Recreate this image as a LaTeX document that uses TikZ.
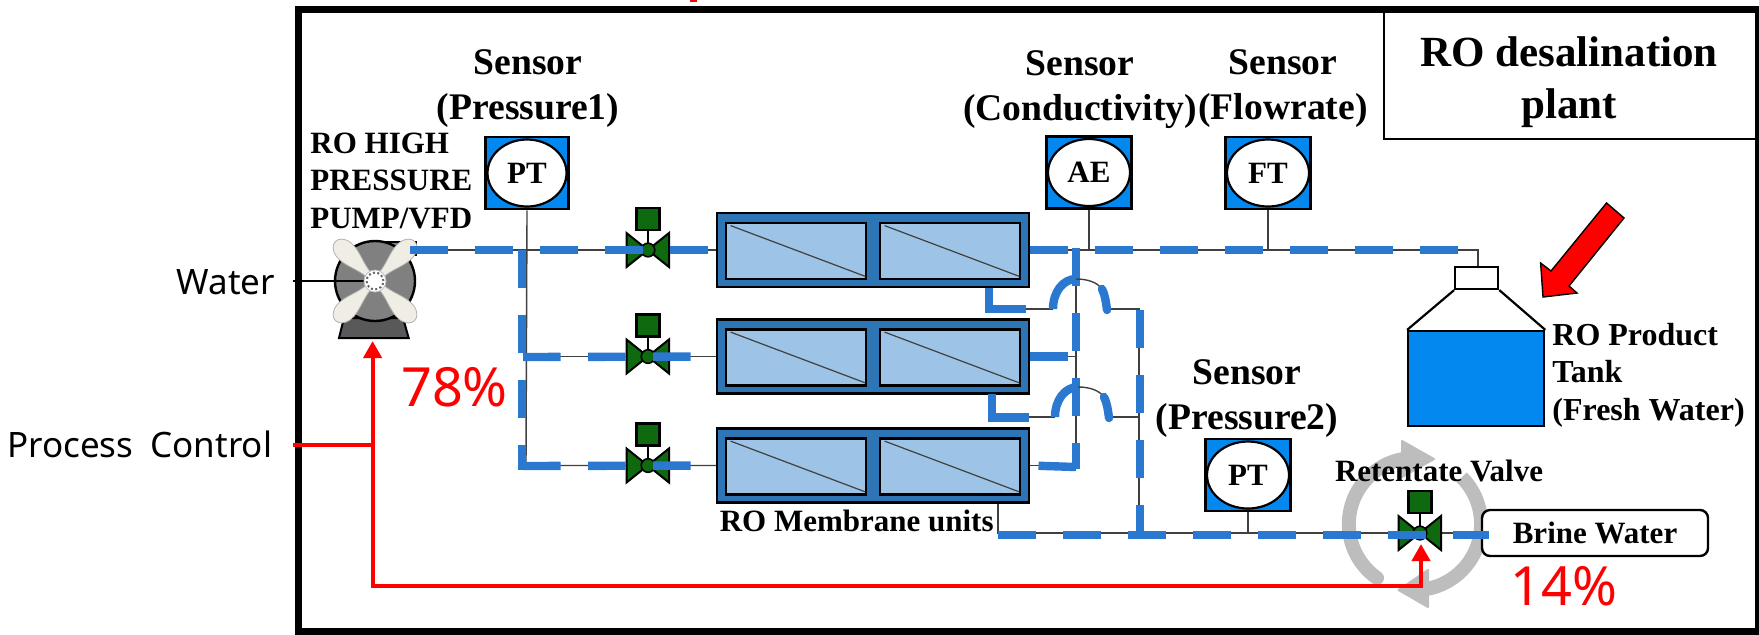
\documentclass[tikz,border=0pt]{standalone}
\usepackage{fontspec}
\setmainfont{Liberation Serif}
\newfontfamily\sansfont{Noto Sans}
\usetikzlibrary{arrows.meta,shapes.geometric}
\definecolor{flowblue}{HTML}{2B78D0}
\definecolor{tankblue}{HTML}{0388F0}
\definecolor{memdark}{HTML}{2E75B6}
\definecolor{memlight}{HTML}{9DC3E6}
\definecolor{valvegreen}{HTML}{0F6A0F}
\definecolor{ringgray}{HTML}{BDBDBD}
\definecolor{bladecream}{HTML}{EFEDE4}
\tikzset{
  pipe/.style={draw=black!75,line width=.7pt},
  flow/.style={draw=flowblue,line width=4.2pt,dash pattern=on 18.75pt off 13.75pt},
  flowbar/.style={draw=flowblue,line width=4.2pt},
  ctrl/.style={draw=red,line width=2pt},
  sensorbox/.style={rectangle,draw,line width=1.3pt,fill=tankblue,inner sep=0pt,minimum width=41.5pt,minimum height=36pt},
  sensorhead/.style={ellipse,draw,line width=1.1pt,fill=white,inner sep=0pt,minimum width=41pt,minimum height=33.5pt,font=\fontsize{15.5}{18}\selectfont\bfseries},
  sensorname/.style={align=center,inner sep=0pt,font=\fontsize{18.8}{22.5}\selectfont\bfseries},
  tag/.style={inner sep=0pt,font=\fontsize{15.5}{18.75}\selectfont\bfseries},
  outer/.style={font=\fontsize{17.5}{21}\selectfont\sansfont,inner sep=0pt},
  percent/.style={text=red,inner sep=0pt,font=\fontsize{27}{32}\selectfont\sansfont},
  module/.style={rectangle,draw,line width=1.2pt,fill=memdark,inner sep=0pt,minimum width=156pt,minimum height=37pt},
  panel/.style={rectangle,draw,line width=1.4pt,fill=memlight,inner sep=0pt,minimum width=70pt,minimum height=28pt},
  ring/.style={draw=ringgray,line width=7pt},
  ringhead/.style={fill=ringgray,draw=ringgray,line width=1pt,line join=round},
  valvesym/.pic={
    \filldraw[fill=valvegreen,line width=1pt,line join=miter] (-21.5,-17) -- (21,17) -- (21,-17) -- (-21.5,17) -- cycle;
    \draw[line width=.8pt] (0,0) -- (0,-20);
    \filldraw[fill=valvegreen,line width=1.1pt] (-11.5,-42) rectangle (11.5,-20);
    \filldraw[fill=valvegreen,line width=.8pt] (0,0) circle (3.4pt);
  },
  hop/.pic={
    \draw[flowbar] (0,0) .. controls (0,-17) and (10,-30) .. (23,-30);
    \draw[pipe] (23,-30) .. controls (34,-30) and (44,-27) .. (49,-20);
    \draw[flowbar,line cap=round] (49,-20) .. controls (52,-14) and (53,-7) .. (54,1);
  },
}
\begin{document}
\begin{tikzpicture}[x=.5pt,y=-.5pt]
  \path[use as bounding box,clip] (0,0) rectangle (1759,634);
  % frame and title
  \fill[red] (690,0) rectangle (697,2);
  \draw[line width=3.4pt] (298.5,9.5) rectangle (1758,631.5);
  \node[rectangle,draw,line width=1.1pt,inner sep=0pt,minimum width=186pt,minimum height=63.5pt] (titlebox) at (1570,75.5) {};
  \node[align=center,inner sep=0pt,font=\fontsize{21.5}{26}\selectfont\bfseries] (title) at (1569,82) {RO desalination\\plant};

  % retentate ring goes under everything
  \draw[ring,line cap=round] (1377,578) arc[start angle=235,end angle=100,radius=33pt];
  \filldraw[ringhead] (1402,441) -- (1434,459) -- (1402,477) -- cycle;
  \draw[ring] (1461.7,477.3) arc[start angle=45,end angle=-79,radius=33pt];
  \filldraw[ringhead] (1428,570) -- (1398.5,590) -- (1428,607) -- cycle;

  % pump
  \coordinate (pumpout) at (410,250);
  \coordinate (waterin) at (293,281);
  \filldraw[fill=black!50,line width=1pt] (370,241.7) -- (415.6,241.7) -- (415.6,255) -- (370,255) -- cycle;
  \filldraw[fill=black!65,line width=1pt] (344,318) -- (403,318) -- (408.7,338) -- (339,338) -- cycle;
  \node[circle,draw,line width=1.2pt,fill=black!50,inner sep=0pt,minimum size=40pt] (pump) at (375,281) {};
  \draw[line width=.7pt] (waterin) -- (pump.center);
  \foreach \ang in {45,135,225,315}
    \filldraw[shift={(pump.center)},rotate=\ang,fill=bladecream,draw=black!30,line width=.4pt]
      (8,-3) .. controls (22,-4) and (32,-11) .. (44,-10) .. controls (60,-8) and (60,8) .. (44,10)
      .. controls (32,11) and (22,4) .. (8,3) -- cycle;
  \filldraw[fill=white,draw=black!25,line width=.4pt] (pump.center) circle (5.5pt);
  \draw[black!60,line width=1pt,dash pattern=on 1pt off 1.2pt] (pump.center) circle (4.2pt);

  % membranes
  \foreach \n/\y in {1/250,2/356.5,3/465.5} {
    \node[module] (m\n) at (873,\y) {};
    \node[panel] (m\n a) at (796,\y+1) {};
    \node[panel] (m\n b) at (950,\y+1) {};
    \draw[black!75,line width=.6pt] ([shift={(6,4)}]m\n a.north west) -- ([shift={(-2,-4)}]m\n a.south east);
    \draw[black!75,line width=.6pt] ([shift={(6,4)}]m\n b.north west) -- ([shift={(-2,-4)}]m\n b.south east);
  }

  % sensors
  \node[sensorbox] (pt1box) at (527,173) {};
  \node[sensorhead,minimum width=39.5pt] (pt1) at (527,173) {PT};
  \node[sensorbox,minimum width=42.5pt] (aebox) at (1089,172.5) {};
  \node[sensorhead] (ae) at (1089,172.5) {AE};
  \node[sensorbox,minimum width=42.5pt] (ftbox) at (1268,173) {};
  \node[sensorhead] (ft) at (1268,173) {FT};
  \node[sensorbox,minimum width=42.5pt] (pt2box) at (1248,475) {};
  \node[sensorhead] (pt2) at (1248,475) {PT};

  % tank
  \node[rectangle,draw,line width=1.1pt,fill=white,inner sep=0pt,minimum width=21.5pt,minimum height=11pt] (tankcap) at (1476.7,278) {};
  \node[rectangle,draw,line width=1.1pt,fill=tankblue,inner sep=0pt,minimum width=68pt,minimum height=47.5pt] (tank) at (1476.2,378.5) {};
  \draw[line width=1.1pt] (tankcap.south west) -- (tank.north west);
  \draw[line width=1.1pt] (tankcap.south east) -- (tank.north east);
  \filldraw[fill=red,line width=.7pt,line join=miter] (1606.5,203) -- (1624,218) -- (1569,286) -- (1577,293) -- (1543,297) -- (1540.6,263) -- (1551,271) -- cycle;

  % brine outlet
  \node[rectangle,rounded corners=4pt,draw,line width=1.2pt,fill=white,inner sep=0pt,minimum width=113pt,minimum height=23pt,font=\fontsize{15.5}{18.75}\selectfont\bfseries] (brine) at (1595,533) {Brine Water};

  % thin lines
  \coordinate (j1) at (526,250);
  \coordinate (j2) at (526,356.5);
  \coordinate (j3) at (526,465.5);
  \coordinate (j4) at (1089,250);
  \coordinate (j5) at (1268,250);
  \coordinate (j6) at (1478,250);
  \coordinate (c1) at (1076,250);
  \coordinate (c2) at (1076,356.5);
  \coordinate (c3) at (1076,465.5);
  \coordinate (d1) at (1139,309);
  \coordinate (d2) at (1139,417);
  \coordinate (d3) at (1139,533);
  \coordinate (r1) at (988,309);
  \coordinate (r2) at (992,417);
  \coordinate (r3) at (998,533);
  \coordinate (j7) at (1248,533);
  \coordinate (v1) at (648,250);
  \coordinate (v2) at (648,356.5);
  \coordinate (v3) at (648,465.5);
  \coordinate (v4) at (1420,533);
  \coordinate (h1a) at (1053,309);
  \coordinate (h1b) at (1107,309);
  \coordinate (h2a) at (1055,417);
  \coordinate (h2b) at (1109,417);

  \draw[pipe] (pumpout) -- (m1.west);
  \draw[pipe] (pt1box.south) -- (j3) -- (m3.west);
  \draw[pipe] (j2) -- (m2.west);
  \draw[pipe] (m1.east) -- (j6) -- (j6 |- tankcap.north);
  \draw[pipe] (aebox.south) -- (j4);
  \draw[pipe] (ftbox.south) -- (j5);
  \draw[pipe] (c1) -- (c3) -- (m3.east);
  \draw[pipe] (m2.east) -- (c2);
  \draw[pipe] (r1) -- (h1a);
  \draw[pipe] (h1b) -- (d1) -- (d3);
  \draw[pipe] (r2) -- (h2a);
  \draw[pipe] (h2b) -- (d2);
  \draw[pipe] (r3 |- m3.south) -- (r3) -- (brine.west);
  \draw[pipe] (pt2box.south) -- (j7);

  % valves
  \foreach \v in {v1,v2,v3,v4}
    \pic at (\v) {valvesym};

  % flow dashes
  \draw[flow] (pumpout) -- (m1.west);
  \draw[flow] (522,250) -- (522,470);
  \draw[flow] (523,357) -- (m2.west);
  \draw[flow] (523,466) -- (m3.west);
  \draw[flow] (m1.east) -- (j6);
  \draw[flow] (m2.east) -- (c2);
  \draw[flow] (1076,248) -- (1076,469);
  \draw[flow] (1076,467) -- (m3.east);
  \draw[flowbar] (989,288) -- (989,309) -- (1026,309);
  \draw[flowbar] (992,394) -- (992,417.5) -- (1029,417.5);
  \pic at (h1a) {hop};
  \pic at (h2a) {hop};
  \draw[flow] (1140,310) -- (1140,533);
  \draw[flow] (998,535) -- (1489,535);

  % process control
  \coordinate (ctrlin) at (293,445);
  \coordinate (ctrljoin) at (372.6,445);
  \coordinate (pumpin) at (372.6,341);
  \coordinate (ctrlcorner) at (372.6,586);
  \coordinate (valvecorner) at (1421,586);
  \coordinate (valvein) at (1421,544);
  \draw[ctrl] (ctrlin) -- (ctrljoin);
  \draw[ctrl,-{Triangle[width=9pt,length=8.5pt]}] (ctrljoin) -- (pumpin);
  \draw[ctrl,-{Triangle[width=9pt,length=8.5pt]}] (ctrljoin) -- (ctrlcorner) -- (valvecorner) -- (valvein);

  % labels
  \node[sensorname] (pt1name) at (528,88.5) {Sensor\\(Pressure1)};
  \node[sensorname] (aename) at (1080,89.5) {Sensor\\(Conductivity)};
  \node[sensorname] (ftname) at (1283,88.5) {Sensor\\(Flowrate)};
  \node[sensorname] (pt2name) at (1247,398.5) {Sensor\\(Pressure2)};
  \node[tag,align=left,anchor=west] (pumpname) at (310,180.5) {RO HIGH\\PRESSURE\\PUMP/VFD};
  \node[tag,align=left,anchor=west,font=\fontsize{16}{18.75}\selectfont\bfseries] (tankname) at (1552,375) {RO Product\\Tank\\(Fresh Water)};
  \node[tag,anchor=base] (memname) at (856.7,531.7) {RO Membrane units};
  \node[tag,anchor=base] (valvename) at (1439,481) {Retentate Valve};
  \node[outer,anchor=base east] (water) at (275.5,294.5) {Water};
  \node[outer,anchor=base east] (process) at (272.5,457) {Process\hspace{4pt} Control};
  \node[percent,anchor=base] (feedpct) at (454.5,406) {78\%};
  \node[percent,anchor=base] (brinepct) at (1563.6,605) {14\%};
\end{tikzpicture}
\end{document}
